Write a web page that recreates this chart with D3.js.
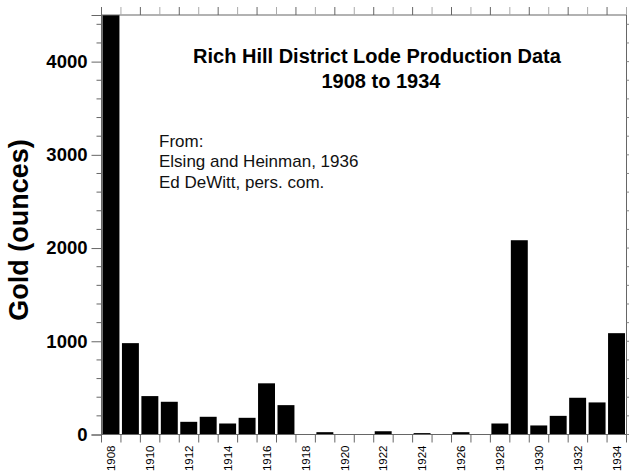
<!DOCTYPE html>
<html>
<head>
<meta charset="utf-8">
<script src="https://cdn.jsdelivr.net/npm/d3@7"></script>
<style>
  html, body { margin: 0; padding: 0; background: #fff; }
  svg { display: block; font-family: "Liberation Sans", Arial, Helvetica, sans-serif; }
</style>
</head>
<body>
<svg id="chart" width="629" height="475"></svg>
<script>
// ---- data ----
const years = [1908,1909,1910,1911,1912,1913,1914,1915,1916,1917,1918,1919,1920,1921,
               1922,1923,1924,1925,1926,1927,1928,1929,1930,1931,1932,1933,1934];
const goldOunces = [4600,980,412,351,136,190,118,179,549,315,0,25,0,0,
                    35,0,15,0,25,0,118,2084,97,200,394,344,1087];
const yTicks = [0,1000,2000,3000,4000];
const xLabelYears = [1908,1910,1912,1914,1916,1918,1920,1922,1924,1926,1928,1930,1932,1934];
const titleLines = ["Rich Hill District Lode Production Data", "1908 to 1934"];
const sourceLines = ["From:", "Elsing and Heinman, 1936", "Ed DeWitt, pers. com."];
const yLabel = "Gold (ounces)";

// ---- layout ----
const svg = d3.select("#chart");
const pLeft = 101.5, pRight = 626.5, pTop = 15, pBottom = 434.5;

const x = d3.scaleBand().domain(years).range([pLeft, pRight]).padding(0);
const y = d3.scaleLinear().domain([0, 4500]).range([pBottom, pTop]);
const axisColor = "#666";

svg.append("defs").append("clipPath").attr("id", "plotclip")
  .append("rect").attr("x", pLeft).attr("y", pTop).attr("width", pRight - pLeft).attr("height", pBottom - pTop);

// bars
svg.append("g").attr("clip-path", "url(#plotclip)")
  .selectAll("rect").data(years).join("rect")
  .attr("x", d => x(d) + 1)
  .attr("width", x.bandwidth() - 2.5)
  .attr("y", (d, i) => y(goldOunces[i]))
  .attr("height", (d, i) => y(0) - y(goldOunces[i]))
  .attr("fill", "#000");

// frame
svg.append("rect").attr("x", pLeft).attr("y", pTop).attr("width", pRight - pLeft).attr("height", pBottom - pTop)
  .attr("fill", "none").attr("stroke", axisColor).attr("stroke-width", 1);

// left axis
const minor = d3.range(0, 4501, 200);
const yAxis = svg.append("g").attr("transform", `translate(${pLeft},0)`)
  .call(d3.axisLeft(y).tickValues(yTicks).tickSize(10).tickPadding(4).tickFormat(d3.format("d")));
yAxis.select(".domain").attr("stroke", axisColor);
yAxis.selectAll(".tick line").attr("stroke", axisColor);
yAxis.selectAll(".tick text").attr("font-size", 18.5).attr("font-weight", "bold").attr("fill", "#000")
  .attr("font-family", "Liberation Sans, Arial, sans-serif");
svg.append("g").selectAll("line").data(minor.filter(v => !yTicks.includes(v))).join("line")
  .attr("x1", pLeft - 5).attr("x2", pLeft).attr("y1", d => y(d)).attr("y2", d => y(d))
  .attr("stroke", axisColor);

// right axis ticks
svg.append("g").selectAll("line").data(minor).join("line")
  .attr("x1", pRight).attr("x2", pRight + 4).attr("y1", d => y(d)).attr("y2", d => y(d))
  .attr("stroke", "#888");

// bottom axis ticks at band boundaries
const bounds = years.map(d => x(d)).concat([pRight]);
svg.append("g").selectAll("line").data(bounds).join("line")
  .attr("x1", d => d).attr("x2", d => d).attr("y1", pBottom).attr("y2", pBottom + 8)
  .attr("stroke", axisColor);
// top ticks
svg.append("g").selectAll("line").data(bounds).join("line")
  .attr("x1", d => d).attr("x2", d => d).attr("y1", pTop).attr("y2", pTop - 8)
  .attr("stroke", (d, i) => i % 2 === 0 ? "#666" : "#aaa");

// bottom labels
svg.append("g").selectAll("text").data(xLabelYears).join("text")
  .attr("transform", d => `translate(${x(d) + x.bandwidth() / 2 + 4},${pBottom + 11}) rotate(-90)`)
  .attr("text-anchor", "end")
  .attr("font-size", 11.5)
  .attr("fill", "#000")
  .text(d => d);

// y label
svg.append("text")
  .attr("transform", `translate(28,230) rotate(-90)`)
  .attr("text-anchor", "middle")
  .attr("font-size", 27).attr("font-weight", "bold").attr("fill", "#000")
  .text(yLabel);

// title
svg.append("text").attr("x", 377).attr("y", 63).attr("text-anchor", "middle")
  .attr("font-size", 20).attr("font-weight", "bold").text(titleLines[0]);
svg.append("text").attr("x", 381).attr("y", 88).attr("text-anchor", "middle")
  .attr("font-size", 20).attr("font-weight", "bold").text(titleLines[1]);

// source
svg.append("g").selectAll("text").data(sourceLines).join("text")
  .attr("x", 159).attr("y", (d, i) => 146.5 + i * 20.8)
  .attr("font-size", 17).attr("fill", "#111").text(d => d);
</script>
</body>
</html>
